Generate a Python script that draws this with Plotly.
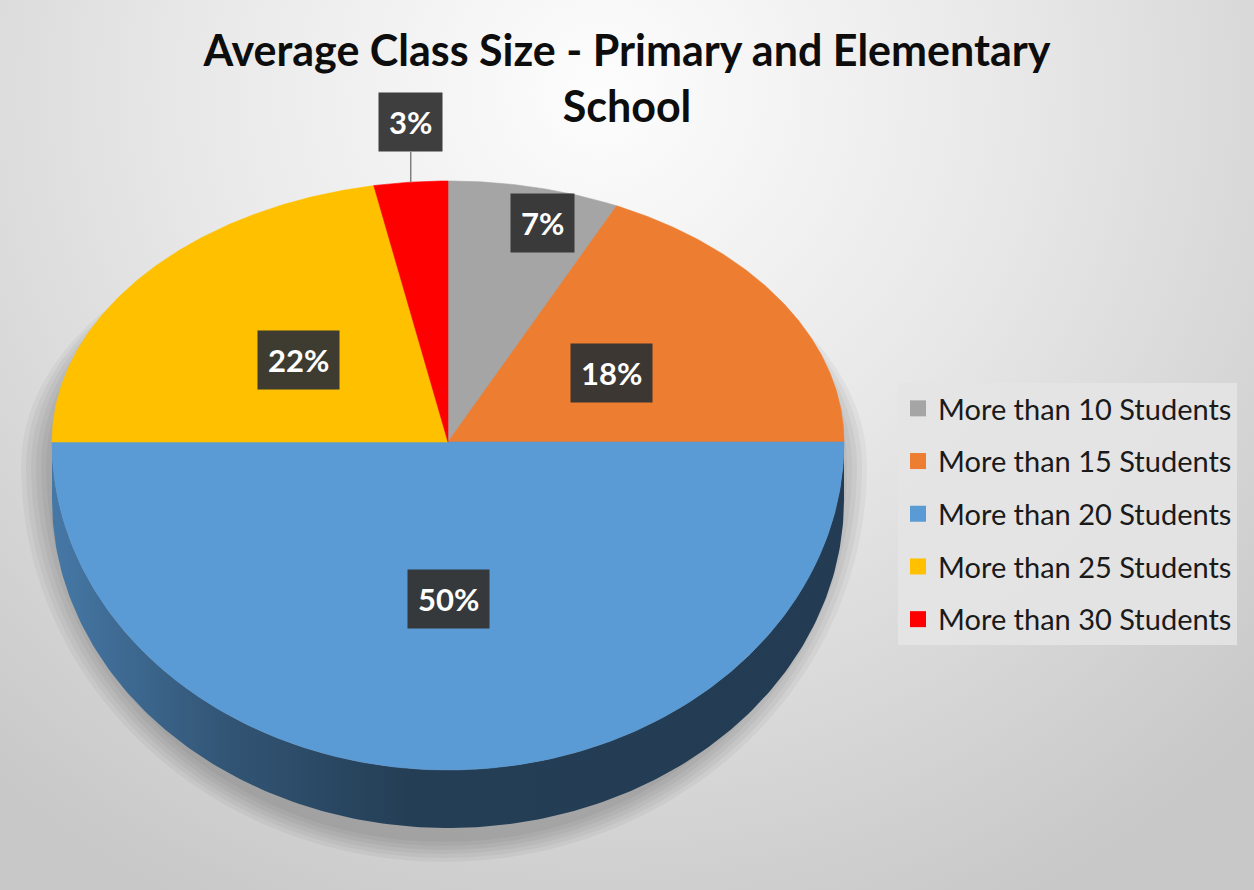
import numpy as np
import plotly.graph_objects as go

# ---------------- data ----------------
title_text = "Average Class Size - Primary and Elementary<br>School"
categories = ["More than 10 Students", "More than 15 Students", "More than 20 Students",
              "More than 25 Students", "More than 30 Students"]
values = [7, 18, 50, 22, 3]
colors = ["#a5a5a5", "#ed7d31", "#5b9bd5", "#ffc000", "#ff0000"]

# ---------------- geometry / style ----------------
W, H = 1254, 890
CX, CY = 448, 442
RX, RY_BACK, RY_FRONT = 396, 261, 328
DEPTH = 58
label_r = [0.86, 0.49, 0.48, 0.49, 1.0]
FONT = "Lato"


def ell(theta_deg, f=1.0):
    t = np.radians(np.asarray(theta_deg, dtype=float))
    s = np.sin(t)
    ry = np.where(s >= 0, RY_BACK, RY_FRONT)
    return CX + RX * np.cos(t) * f, CY - ry * s * f


def shade(hexcol, k):
    h = hexcol.lstrip("#")
    r, g, b = (int(h[i:i + 2], 16) for i in (0, 2, 4))
    return "rgb(%d,%d,%d)" % (r * k, g * k, b * k)


fig = go.Figure()

# background (radial gradient)
fig.add_trace(go.Scatter(
    x=[-320, 1520, 1520, -320, -320], y=[-820, -820, 1000, 1000, -820],
    mode="lines", line=dict(width=0), fill="toself",
    fillgradient=dict(type="radial",
                      colorscale=[[0, "#fdfdfd"], [0.45, "#e8e8e8"], [1, "#c8c8c8"]]),
    hoverinfo="skip", showlegend=False))

# soft shadow below the pie
th = np.linspace(0, 360, 241)
for k in range(6):
    t = np.radians(th)
    s = np.sin(t)
    rx = RX + 2 + 5 * k
    ry = np.where(s >= 0, RY_BACK, RY_FRONT + DEPTH - 10 + 4 * k)
    fig.add_trace(go.Scatter(
        x=CX - 4 + rx * np.cos(t), y=CY + 24 - ry * s,
        mode="lines", line=dict(width=0), fill="toself",
        fillcolor="rgba(0,0,0,0.04)", hoverinfo="skip", showlegend=False))

# slice angles (clockwise from 12 o'clock)
total = float(sum(values))
starts, ends = [], []
a = 90.0
for v in values:
    starts.append(a)
    a -= v / total * 360.0
    ends.append(a)

# side walls (front half only: angles -180..0)
for i, (a0, a1) in enumerate(zip(starts, ends)):
    lo, hi = max(a1, -180.0), min(a0, 0.0)
    if hi <= lo:
        continue
    tt = np.linspace(hi, lo, 200)
    xt, yt = ell(tt)
    xs = np.concatenate([xt, xt[::-1], xt[:1]])
    ys = np.concatenate([yt, yt[::-1] + DEPTH, yt[:1]])
    c = colors[i]
    fig.add_trace(go.Scatter(
        x=xs, y=ys, mode="lines", line=dict(width=0), fill="toself",
        fillgradient=dict(type="horizontal",
                          colorscale=[[0, shade(c, 0.78)], [0.22, shade(c, 0.55)],
                                      [0.45, shade(c, 0.40)], [1, shade(c, 0.39)]]),
        hoverinfo="skip", showlegend=False))

# top faces
for i, (a0, a1) in enumerate(zip(starts, ends)):
    n = max(int(abs(a0 - a1) * 2), 6)
    tt = np.linspace(a0, a1, n)
    xt, yt = ell(tt)
    xs = np.concatenate([[CX], xt, [CX]])
    ys = np.concatenate([[CY], yt, [CY]])
    fig.add_trace(go.Scatter(
        x=xs, y=ys, mode="lines", line=dict(width=0.6, color=colors[i]),
        fill="toself", fillcolor=colors[i], name=categories[i],
        hoverinfo="skip", showlegend=False))

# legend entries
for i, cat in enumerate(categories):
    fig.add_trace(go.Scatter(
        x=[None], y=[None], mode="markers", name=cat, legendgroup=cat,
        marker=dict(symbol="square", size=16, color=colors[i]), showlegend=True))

# data labels
for i, v in enumerate(values):
    mid = (starts[i] + ends[i]) / 2.0
    txt = "%d%%" % round(v / total * 100)
    lab_font = dict(family=FONT, size=31, color="white", weight="bold")
    if v / total < 0.05:
        px, py = ell(mid, 1.0)
        fig.add_annotation(x=float(px), y=float(py), text=txt, showarrow=True,
                           arrowhead=0, arrowwidth=1.5, arrowcolor="#7f7f7f",
                           ax=0, ay=-60, standoff=0, font=lab_font,
                           bgcolor="rgba(52,52,52,0.95)", borderpad=10)
    else:
        px, py = ell(mid, label_r[i])
        if i == 0:
            px = px + 20
        fig.add_annotation(x=float(px), y=float(py), text=txt, showarrow=False,
                           font=lab_font, bgcolor="rgba(52,52,52,0.95)", borderpad=10)

fig.update_xaxes(range=[0, W], visible=False, fixedrange=True)
fig.update_yaxes(range=[H, 0], visible=False, fixedrange=True)
fig.update_layout(
    width=W, height=H, margin=dict(l=0, r=0, t=0, b=0),
    paper_bgcolor="#dadada", plot_bgcolor="#dadada",
    title=dict(text=title_text, x=0.5, xanchor="center", y=0.926, yanchor="top",
               font=dict(family=FONT, size=43, color="#0d0d0d", weight="bold")),
    legend=dict(x=898 / W, y=1 - 383 / H, xanchor="left", yanchor="top",
                bgcolor="rgba(228,228,228,0.9)", borderwidth=0,
                font=dict(family=FONT, size=29, color="#1a1a1a"),
                tracegroupgap=12, itemclick=False, itemdoubleclick=False),
    showlegend=True,
)

fig.write_html("out.html", config={"displayModeBar": False},
               post_script="document.body.style.margin='0';")
